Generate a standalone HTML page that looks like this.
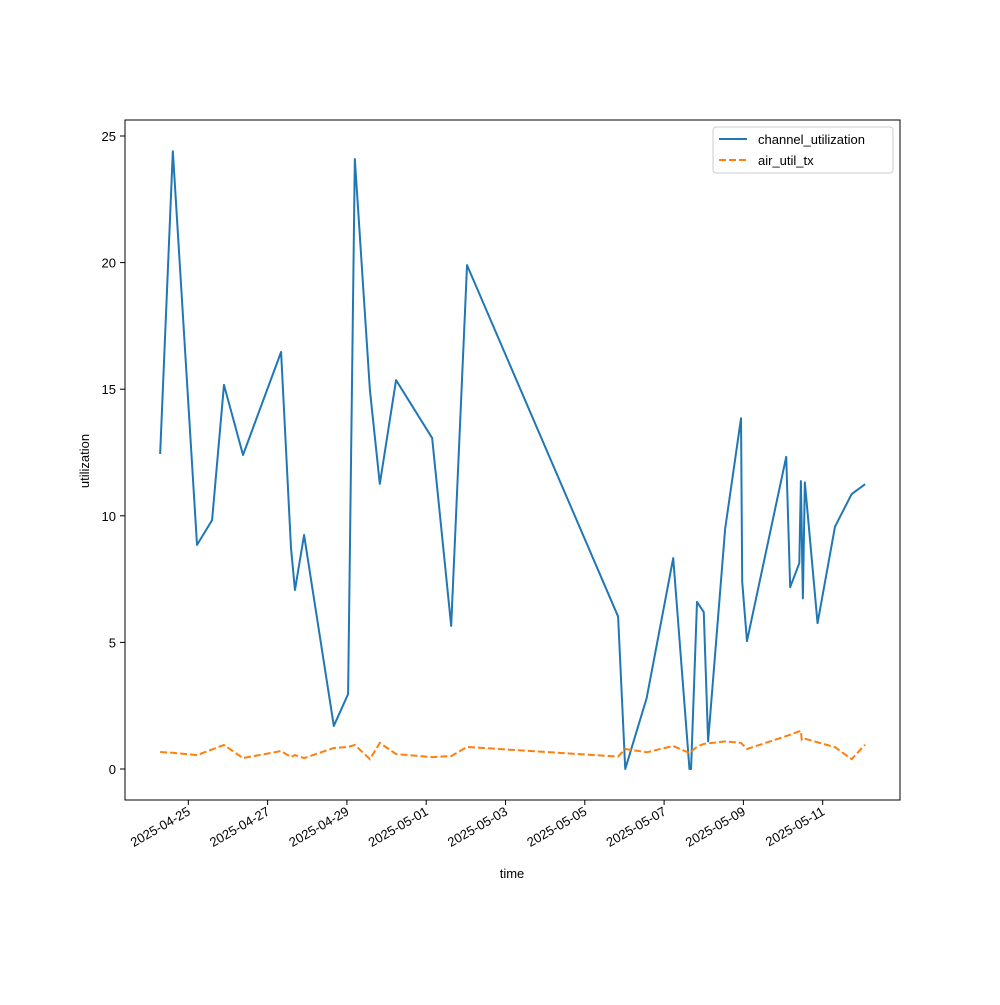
<!DOCTYPE html>
<html><head><meta charset="utf-8"><style>
body{margin:0;background:#fff}
svg text{font-family:"Liberation Sans","DejaVu Sans",sans-serif;font-size:13px;fill:#000}
</style></head><body>
<svg id="chart" width="1000" height="1000" xmlns="http://www.w3.org/2000/svg">
<rect width="1000" height="1000" fill="#fff"/>
<g id="plot"></g>
<rect x="125" y="120" width="775" height="680" fill="none" stroke="#000" stroke-width="1"/>
<g id="xticks"></g>
<g id="yticks"></g>
<text x="512" y="878" text-anchor="middle">time</text>
<text transform="translate(89,461) rotate(-90)" text-anchor="middle">utilization</text>
<g>
<rect x="713" y="127" width="180" height="46" rx="3" fill="#fff" stroke="#ccc"/>
<line x1="719" y1="139" x2="747" y2="139" stroke="#1f77b4" stroke-width="2"/>
<text x="758" y="144">channel_utilization</text>
<line x1="719" y1="160" x2="747" y2="160" stroke="#ff7f0e" stroke-width="2" stroke-dasharray="7,3"/>
<text x="758" y="165">air_util_tx</text>
</g>
</svg>
<script>
const blueDays=[-0.71,-0.39,0.22,0.60,0.90,1.38,2.34,2.59,2.69,2.92,3.67,4.03,4.20,4.58,4.83,5.24,6.15,6.63,7.03,10.84,11.02,11.56,12.23,12.64,12.68,12.83,13.0,13.11,13.54,13.94,13.97,14.09,15.08,15.18,15.41,15.45,15.50,15.55,15.87,16.31,16.73,17.07];
const channelUtil=[12.44,24.4,8.85,9.83,15.17,12.4,16.47,8.73,7.07,9.24,1.70,2.96,24.09,14.97,11.26,15.36,13.07,5.65,19.9,6.02,0.0,2.8,8.33,0,0,6.60,6.2,1.09,9.49,13.85,7.39,5.05,12.33,7.18,8.13,11.37,6.74,11.32,5.76,9.57,10.86,11.25];
const orangeDays=[-0.71,-0.39,0.22,0.90,1.38,2.34,2.59,2.69,2.92,3.67,4.03,4.20,4.58,4.83,5.24,6.15,6.63,7.03,10.84,11.02,11.56,12.23,12.64,12.83,13.0,13.54,13.94,14.09,15.08,15.45,15.47,15.50,16.31,16.73,17.07];
const airUtil=[0.67,0.64,0.55,0.95,0.43,0.71,0.47,0.55,0.43,0.83,0.87,0.95,0.39,1.03,0.59,0.47,0.51,0.87,0.49,0.79,0.66,0.91,0.63,0.88,0.99,1.09,1.03,0.79,1.30,1.51,1.17,1.22,0.86,0.39,0.96];
const xTickDays=[0,2,4,6,8,10,12,14,16];
const xTickLabels=["2025-04-25","2025-04-27","2025-04-29","2025-05-01","2025-05-03","2025-05-05","2025-05-07","2025-05-09","2025-05-11"];
const yTicks=[0,5,10,15,20,25];

const NS="http://www.w3.org/2000/svg";
const xs=d=>188.3+d*39.65;
const ys=v=>769-v*25.32;
function mk(tag,attrs,parent){const e=document.createElementNS(NS,tag);for(const k in attrs)e.setAttribute(k,attrs[k]);parent.appendChild(e);return e;}
const plot=document.getElementById('plot');
const b=mk('polyline',{points:blueDays.map((d,i)=>xs(d)+','+ys(channelUtil[i])).join(' '),fill:'none',stroke:'#1f77b4','stroke-width':2,'stroke-linejoin':'round'},plot);


const o=mk('polyline',{points:orangeDays.map((d,i)=>xs(d)+','+ys(airUtil[i])).join(' '),fill:'none',stroke:'#ff7f0e','stroke-width':2,'stroke-dasharray':'7,3'},plot);


const xg=document.getElementById('xticks');
xTickDays.forEach((d,i)=>{const x=xs(d);
 const t=mk('line',{x1:x,y1:800,x2:x,y2:805,stroke:'#000'},xg);
 
 
 const l=mk('text',{transform:`translate(${x+3},${814}) rotate(-30)`,'text-anchor':'end'},xg);
 l.textContent=xTickLabels[i];
 
 
});
const yg=document.getElementById('yticks');
yTicks.forEach(v=>{const y=ys(v);
 const t=mk('line',{x1:120,y1:y,x2:125,y2:y,stroke:'#000'},yg);
 
 
 const l=mk('text',{x:116,y:y+5,'text-anchor':'end'},yg);
 l.textContent=v;
 
 
});
</script>
</body></html>
